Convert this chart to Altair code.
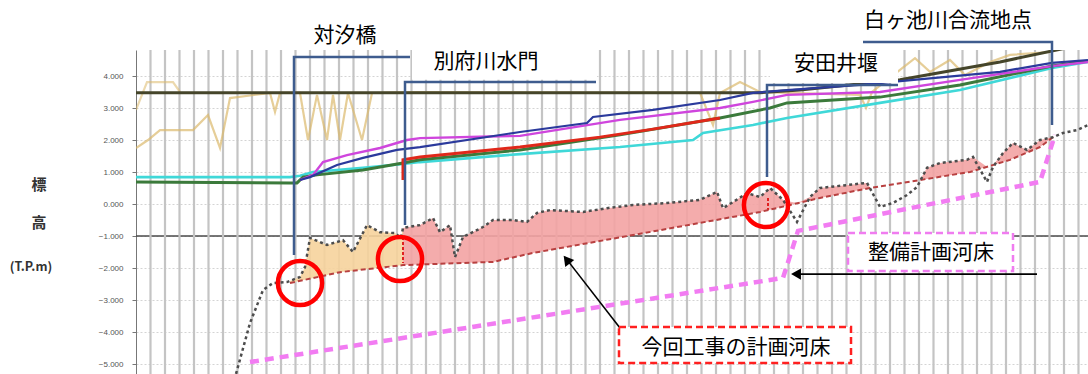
import altair as alt
import pandas as pd
import numpy as np

# ---- axes ----
X_DOM = [0, 95.2]             # distance along the river (arbitrary units)
Y_DOM = [-5.3125, 4.8125]     # elevation T.P.m
Y_TICKS = [-5, -4, -3, -2, -1, 0, 1, 2, 3, 4]
GRID_X = [round(1.45 * k, 2) for k in range(1, 66)]   # cross-section stations

# ---- water levels ----
black_x = [0, 62.4, 66.4, 76.4, 86.4, 93.4]
black_y = [3.48, 3.48, 3.56, 3.88, 4.44, 4.9]

tan_x = [0, 1.2, 2.4, 5.7, 7.2, 8.4, 9.4, 13.4, 13.9, 14.4, 16.4, 17.2, 18.1, 19.1, 19.7, 20.4, 21.2, 22.6,
         23.6, 27.4, 56.4, 57.7, 58.4, 60.4, 62.4, 72.4, 73.0, 73.6, 76.4, 77.9, 79.4, 81.4, 82.9, 85.4, 87.4, 91.4]
tan_y = [1.75, 2.0, 2.31, 2.31, 2.78, 1.75, 3.31, 3.47, 2.88, 3.47, 3.47, 2.0, 3.41, 2.0, 3.41, 2.0, 3.47, 2.0,
         3.47, 3.5, 3.47, 2.47, 3.47, 3.81, 3.5, 3.41, 3.0, 3.5, 4.19, 4.56, 4.13, 4.5, 4.03, 4.44, 4.66, 4.75]
tan2_x = [0, 1.1, 3.7, 4.4]
tan2_y = [2.94, 3.81, 3.81, 3.5]

cyan_x = [0, 15.4, 16.4, 17.7, 22.7, 26.7, 28.4, 38.4, 48.4, 55.7, 56.7, 61.7, 65.1, 74.4, 82.4, 91.6, 95.2]
cyan_y = [0.84, 0.84, 0.88, 1.0, 1.13, 1.25, 1.31, 1.56, 1.78, 2.0, 2.22, 2.47, 2.69, 3.16, 3.56, 4.25, 4.44]

green_x = [0, 15.4, 16.1, 16.7, 18.1, 22.7, 26.7, 28.4, 38.4, 48.4, 58.4, 63.4, 65.1, 74.4, 82.4, 91.6, 95.2]
green_y = [0.69, 0.66, 0.66, 0.84, 0.91, 1.06, 1.28, 1.38, 1.69, 2.16, 2.69, 3.0, 3.16, 3.34, 3.72, 4.31, 4.47]

red_x = [26.7, 26.7, 28.4, 38.4, 46.4, 51.7, 58.4]
red_y = [0.75, 1.38, 1.47, 1.78, 2.09, 2.34, 2.69]

magenta_x = [16.4, 17.7, 18.7, 21.1, 24.4, 27.1, 28.4, 38.4, 48.4, 58.4, 61.7, 65.1, 74.4, 82.4, 91.6, 95.2]
magenta_y = [0.75, 0.91, 1.31, 1.53, 1.75, 2.0, 2.06, 2.13, 2.63, 3.0, 3.19, 3.41, 3.5, 3.88, 4.31, 4.44]

blue_x = [16.4, 17.4, 20.1, 22.7, 26.1, 28.4, 38.4, 45.1, 45.7, 51.7, 58.4, 61.7, 65.1, 72.4, 86.4, 91.6, 95.2]
blue_y = [0.75, 0.84, 1.22, 1.44, 1.69, 1.78, 2.25, 2.53, 2.72, 2.94, 3.25, 3.47, 3.56, 3.72, 4.13, 4.41, 4.5]

# ---- river bed ----
bed_x = [10.0, 11.4, 12.7, 13.7, 15.1, 16.4, 16.9, 17.4, 19.1, 20.7, 21.7, 23.1, 24.4, 25.9, 26.5, 26.7, 28.4,
         29.7, 30.4, 31.4, 31.9, 32.7, 34.7, 35.7, 37.7, 39.1, 40.1, 41.4, 44.7, 47.1, 49.7, 53.1, 56.4, 58.1,
         58.7, 59.7, 61.1, 62.4, 63.4, 64.7, 66.1, 67.4, 68.4, 73.1, 74.4, 75.7, 77.1, 78.1, 79.1, 80.4, 83.1,
         83.7, 85.1, 85.7, 86.7, 87.7, 89.1, 90.4, 91.7, 92.7, 94.1, 95.2]
bed_y = [-5.31, -3.72, -2.69, -2.47, -2.44, -2.28, -1.97, -1.06, -1.28, -1.13, -1.5, -0.66, -0.88, -0.91, -1.06,
         -0.75, -0.66, -0.44, -0.88, -0.66, -1.66, -1.03, -0.72, -0.5, -0.5, -0.56, -0.28, -0.19, -0.25, -0.13,
         -0.03, 0.03, 0.13, 0.38, -0.13, 0.06, 0.34, 0.22, 0.5, 0.13, -0.56, 0.22, 0.5, 0.66, -0.09, 0.03, 0.28,
         0.53, 1.13, 1.28, 1.38, 1.47, 0.69, 1.16, 1.59, 1.91, 1.69, 2.0, 2.09, 2.22, 2.31, 2.47]

plan_x = [15.4, 20.4, 26.7, 35.7, 39.7, 43.1, 49.7, 56.4, 62.4, 68.4, 73.4, 78.4, 83.4, 87.4, 90.4, 91.7]
plan_y = [-2.47, -2.13, -1.91, -1.81, -1.53, -1.34, -0.97, -0.59, -0.25, 0.19, 0.5, 0.75, 1.0, 1.38, 1.78, 2.09]

seibi_x = [11.4, 64.7, 66.2, 90.4, 91.9]
seibi_y = [-4.94, -2.31, -0.84, 0.69, 2.16]

gate_x = [26.7, 63.2]
gate_top = [-1.03, 0.19]
gate_bot = [-1.84, -0.19]

SPLIT_X = 26.7   # 別府川水門

# ---- annotations ----
labels = ["対汐橋", "別府川水門", "安田井堰", "白ヶ池川合流地点", "整備計画河床", "今回工事の計画河床"]
label_x = [20.9, 35.0, 70.0, 81.2, 79.5, 60.0]
label_y = [5.25, 4.44, 4.38, 5.72, -1.53, -4.5]

brk_id = [1, 1, 1, 2, 2, 2, 3, 3, 3, 4, 4, 4]
brk_x = [15.8, 15.8, 27.4, 26.9, 26.9, 46.0, 63.1, 63.1, 76.2, 72.7, 91.6, 91.6]
brk_y = [-1.59, 4.59, 4.59, -0.66, 3.81, 3.81, 0.84, 3.72, 3.72, 5.06, 5.06, 2.47]

wbox_x = [27.6, 63.4]
wbox_x2 = [46.1, 76.2]
wbox_y = [5.1, 4.97]
wbox_y2 = [3.88, 3.78]

circ_x = [16.4, 26.4, 63.0]
circ_y = [-2.47, -1.72, -0.03]

# ---------------------------------------------------------------
xs = alt.Scale(domain=X_DOM, nice=False, zero=False)
ys = alt.Scale(domain=Y_DOM, nice=False, zero=False)
Y_AXIS = alt.Axis(
    values=Y_TICKS, format=".3f", title=None, grid=True, gridColor="#d4d4d4", gridDash=[2, 2],
    domainColor="#777", ticks=True, tickSize=4, tickColor="#777", labelPadding=9,
    labelFontSize=8, labelColor="#555", labelFont="Liberation Sans")


def X(f="x"):
    return alt.X(f"{f}:Q", scale=xs, axis=None)


def Y(f="y"):
    return alt.Y(f"{f}:Q", scale=ys, axis=Y_AXIS)


def ldf(xv, yv):
    return pd.DataFrame({"x": xv, "y": yv, "order": list(range(len(xv)))})


def line_layer(xv, yv, color, width, dash=None, opacity=1.0):
    kw = dict(color=color, strokeWidth=width, opacity=opacity, clip=True)
    if dash:
        kw["strokeDash"] = dash
    return alt.Chart(ldf(xv, yv)).mark_line(**kw).encode(x=X(), y=Y(), order="order:Q")


# vertical station grid
grid = alt.Chart(pd.DataFrame({"x": GRID_X})).mark_rule(color="#c4c4c4", strokeWidth=2.2).encode(x=X())

# -1.0 reference line
ref = alt.Chart(pd.DataFrame({"y": [-1]})).mark_rule(color="#4a4a4a", strokeWidth=1.3).encode(y=Y())

# fill between current bed and planned bed
fx = sorted(set([v for v in bed_x if plan_x[0] <= v <= plan_x[-1]] + plan_x))
rows = []
for v in fx:
    d = float(np.interp(v, bed_x, bed_y))
    p = float(np.interp(v, plan_x, plan_y))
    grp = []
    if v <= SPLIT_X:
        grp.append("a")
    if v >= SPLIT_X:
        grp.append("b")
    for g in grp:
        rows.append({"x": v, "y": max(d, p), "bot": p, "g": g})
fill = pd.DataFrame(rows)
fill_a = alt.Chart(fill[fill.g == "a"]).mark_area(color="#f6d39c", opacity=0.9).encode(
    x=X(), y=Y(), y2="bot:Q")
fill_b = alt.Chart(fill[fill.g == "b"]).mark_area(color="#f3a3a3", opacity=0.9).encode(
    x=X(), y=Y(), y2="bot:Q")

gates = alt.Chart(pd.DataFrame({"x": gate_x, "y": gate_top, "y2": gate_bot})).mark_rule(
    color="#e02020", strokeWidth=2, strokeDash=[3, 2]).encode(x=X(), y=Y(), y2="y2:Q")

seibi = line_layer(seibi_x, seibi_y, "#f27cf2", 4.5, dash=[9, 6])
plan = line_layer(plan_x, plan_y, "#b84040", 2, dash=[5, 3])
bed = line_layer(bed_x, bed_y, "#4d4d4d", 2.5, dash=[3, 3])

tan = line_layer(tan_x, tan_y, "#dcb96c", 2.2, opacity=0.7)
tan2 = line_layer(tan2_x, tan2_y, "#dcb96c", 2.2, opacity=0.55)
black = line_layer(black_x, black_y, "#45452a", 3)
cyan = line_layer(cyan_x, cyan_y, "#3fd8d8", 2.6)
green = line_layer(green_x, green_y, "#3b7a3b", 3)
red = line_layer(red_x, red_y, "#e0281a", 3)
magenta = line_layer(magenta_x, magenta_y, "#cf45dd", 2.4)
blue = line_layer(blue_x, blue_y, "#2b3a9c", 2.2)

wbox = alt.Chart(pd.DataFrame({"x": wbox_x, "x2": wbox_x2, "y": wbox_y, "y2": wbox_y2})).mark_rect(
    color="white").encode(x=X(), x2="x2:Q", y=Y(), y2="y2:Q")

brackets = alt.Chart(pd.DataFrame({"x": brk_x, "y": brk_y, "id": brk_id,
                                   "order": list(range(len(brk_x)))})).mark_line(
    color="#3e5c8e", strokeWidth=2.5).encode(x=X(), y=Y(), detail="id:N", order="order:Q")

circles = alt.Chart(pd.DataFrame({"x": circ_x, "y": circ_y})).mark_point(
    shape="circle", size=1950, filled=False, color="#ff0000", strokeWidth=4.5, opacity=1).encode(x=X(), y=Y())

# arrows
shaft = alt.Chart(pd.DataFrame({"x": [48.4, 90.1], "y": [-3.875, -2.19],
                                "x2": [42.9, 66.0], "y2": [-1.66, -2.19]})).mark_rule(
    color="black", strokeWidth=1.6).encode(x=X(), y=Y(), x2="x2:Q", y2="y2:Q")
head1 = alt.Chart(pd.DataFrame({"x": [43.07], "y": [-1.74]})).mark_point(
    shape="triangle-up", filled=True, color="black", size=130, angle=322, opacity=1).encode(x=X(), y=Y())
head2 = alt.Chart(pd.DataFrame({"x": [66.0], "y": [-2.19]})).mark_point(
    shape="triangle-up", filled=True, color="black", size=130, angle=270, opacity=1).encode(x=X(), y=Y())

# label boxes
box_red = alt.Chart(pd.DataFrame({"x": [48.3], "x2": [71.5], "y": [-3.84], "y2": [-4.97]})).mark_rect(
    fill="white", stroke="#ff2020", strokeWidth=2.5, strokeDash=[7, 4]).encode(x=X(), x2="x2:Q", y=Y(), y2="y2:Q")
box_pink = alt.Chart(pd.DataFrame({"x": [71.2], "x2": [87.7], "y": [-0.91], "y2": [-2.09]})).mark_rect(
    fill="white", stroke="#f07cf0", strokeWidth=2.5, strokeDash=[7, 4]).encode(x=X(), x2="x2:Q", y=Y(), y2="y2:Q")

texts = alt.Chart(pd.DataFrame({"x": label_x, "y": label_y, "t": labels})).mark_text(
    font="Noto Sans CJK JP", fontSize=21, color="black", align="center", baseline="middle").encode(
    x=X(), y=Y(), text="t:N")

ytitle = alt.Chart(pd.DataFrame({"x": [-9.7, -9.7, -10.5], "y": [0.59, -0.59, -1.97],
                                 "t": ["標", "高", "(T.P.m)"], "s": [15, 15, 12.5]})).mark_text(
    font="Noto Sans CJK JP", color="#333", align="center", baseline="middle", fontWeight="bold").encode(
    x=X(), y=Y(), text="t:N", size=alt.Size("s:Q", scale=None, legend=None))

chart = alt.layer(
    ref, grid, fill_a, fill_b, gates, seibi, plan, bed,
    tan, tan2, black, cyan, green, red, magenta, blue,
    wbox, brackets, circles, shaft, head1, head2, box_red, box_pink, texts, ytitle
).properties(
    width=952, height=324,
    padding={"left": 136, "top": 50, "right": 0, "bottom": 0},
    autosize=alt.AutoSizeParams(type="none"),
    background="white",
).configure_view(stroke="transparent")

chart.save("out.html", embed_options={"renderer": "svg", "actions": False})
